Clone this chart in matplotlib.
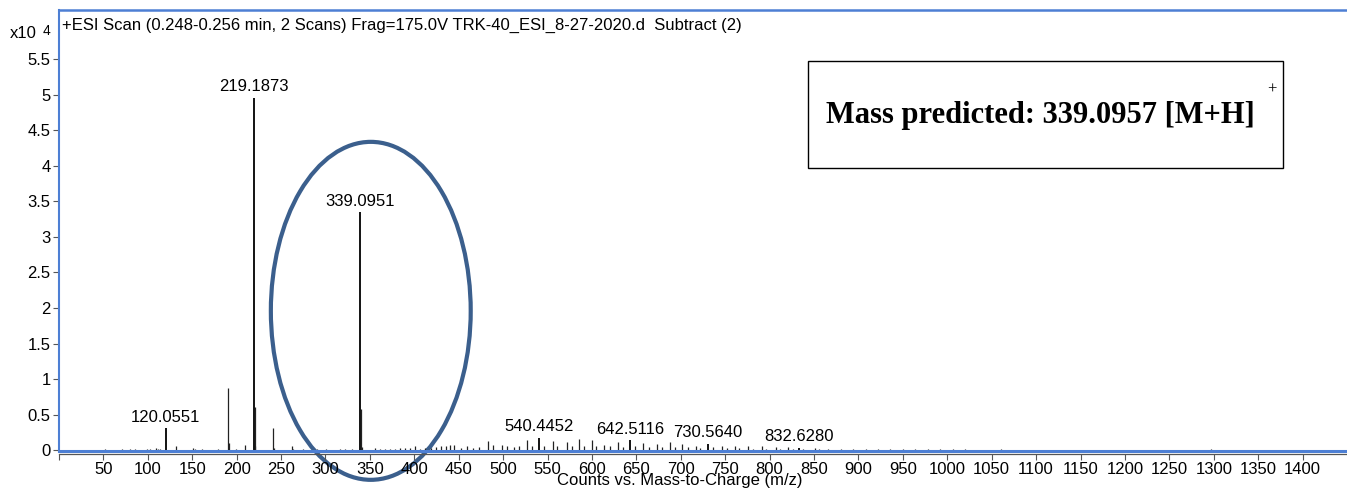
import matplotlib.pyplot as plt
from matplotlib.patches import Ellipse, Rectangle

plt.rcParams['font.family'] = ['Liberation Sans', 'DejaVu Sans']

# labelled peaks (m/z, counts x10^4)
label_mz = [120.0551, 219.1873, 339.0951, 540.4452, 642.5116, 730.5640, 832.6280]
label_int = [0.31, 4.96, 3.35, 0.17, 0.14, 0.09, 0.03]

# other peaks
peak_mz = [52, 71, 80, 86, 99, 102, 109, 112, 114, 131.8, 151, 153, 161, 179,
           190.7, 191.7, 199, 209.5, 220.19, 221.2, 240.7, 241.7, 262, 263,
           275, 290, 301, 316, 322, 330, 340.1, 341.1, 356, 361.6, 367, 373,
           378, 384, 390, 395, 400.5, 406, 412, 419, 424, 430, 436, 440, 445,
           452, 459, 466, 473, 483.4, 489, 498.4, 504, 512, 518, 527.3, 533,
           546, 555.9, 561, 571.6, 577, 585.8, 591, 599.7, 605, 614, 620,
           629.7, 635, 648, 658, 664, 673, 679, 688, 694, 701, 708, 716.8,
           722, 736, 746, 752, 761, 766, 776, 781, 791, 796, 807, 812, 821,
           826, 838, 851, 856, 866, 880, 894, 908, 922, 936, 950, 964, 978,
           992, 1006, 1020, 1060, 1297]
peak_int = [0.01, 0.01, 0.015, 0.01, 0.02, 0.015, 0.025, 0.02, 0.02, 0.05,
            0.025, 0.02, 0.015, 0.01, 0.87, 0.10, 0.015, 0.07, 0.60, 0.05,
            0.31, 0.03, 0.06, 0.015, 0.015, 0.01, 0.01, 0.015, 0.01, 0.015,
            0.58, 0.04, 0.03, 0.015, 0.02, 0.015, 0.02, 0.03, 0.025, 0.03,
            0.06, 0.02, 0.03, 0.025, 0.04, 0.05, 0.06, 0.07, 0.07, 0.03, 0.05,
            0.03, 0.04, 0.13, 0.07, 0.07, 0.05, 0.04, 0.05, 0.14, 0.05, 0.06,
            0.13, 0.05, 0.11, 0.05, 0.15, 0.05, 0.14, 0.05, 0.07, 0.05, 0.11,
            0.04, 0.05, 0.10, 0.04, 0.09, 0.04, 0.11, 0.04, 0.09, 0.04, 0.05,
            0.03, 0.04, 0.06, 0.03, 0.06, 0.03, 0.05, 0.02, 0.05, 0.02, 0.04,
            0.02, 0.04, 0.02, 0.02, 0.03, 0.015, 0.02, 0.02, 0.02, 0.015,
            0.015, 0.015, 0.01, 0.015, 0.01, 0.01, 0.01, 0.01, 0.008, 0.01]

W, H = 1347, 488
fig = plt.figure(figsize=(W / 100, H / 100), dpi=100)
ax = fig.add_axes([59 / W, (H - 451) / H, (W - 59) / W, 441 / H])

blue = '#4d7fd4'
ax.vlines(peak_mz, 0, peak_int, color='#222222', lw=0.9)
ax.vlines(label_mz, 0, label_int, color='black', lw=1.3)
for mz, v in zip(label_mz, label_int):
    ax.annotate(f'{mz:.4f}', (mz, v), xytext=(0, 2.5), textcoords='offset points',
                ha='center', va='bottom', fontsize=12)

ax.set_xlim(0, 1450)
ax.set_ylim(-0.014, 6.197)
ax.set_xticks(range(0, 1401, 50))
ax.set_xticklabels([''] + [str(t) for t in range(50, 1401, 50)])
ax.set_yticks([i * 0.5 for i in range(12)])
ax.set_yticklabels(['%g' % (i * 0.5) for i in range(12)])
ax.tick_params(axis='both', labelsize=12, colors='#555555', labelcolor='black',
               length=4, width=0.8)
ax.tick_params(axis='x', pad=2)
ax.tick_params(axis='y', pad=2)

ax.spines['right'].set_visible(False)
ax.spines['left'].set_color(blue)
ax.spines['left'].set_linewidth(1.5)
ax.spines['top'].set_color(blue)
ax.spines['top'].set_linewidth(1.8)
ax.spines['bottom'].set_color('#555555')
ax.spines['bottom'].set_linewidth(0.9)
ax.spines['bottom'].set_position(('outward', 2.2))
ax.axhline(-0.014, color=blue, lw=2.2, clip_on=False)

# circled target peak
ax.add_patch(Ellipse((351, 1.96), 225, 4.76, fill=False, ec='#3b5f8d', lw=3,
                     clip_on=False))

fig.text(62 / W, 1 - 25 / H,
         '+ESI Scan (0.248-0.256 min, 2 Scans) Frag=175.0V TRK-40_ESI_8-27-2020.d  Subtract (2)',
         fontsize=12, va='center', ha='left')
fig.text(10 / W, 1 - 34 / H, 'x10', fontsize=12, va='center', ha='left')
fig.text(43 / W, 1 - 31 / H, '4', fontsize=10, va='center', ha='left')
fig.text(680 / W, 1 - 481 / H, 'Counts vs. Mass-to-Charge (m/z)', fontsize=12,
         va='center', ha='center')

# predicted mass box
fig.add_artist(Rectangle((808 / W, 1 - 168 / H), 475 / W, 107 / H,
                         transform=fig.transFigure, fill=False, ec='black', lw=1))
fig.text(826 / W, 1 - 123 / H, 'Mass predicted: 339.0957 [M+H]',
         family=['Liberation Serif'], weight='bold', fontsize=22,
         va='baseline', ha='left')
fig.text(1272 / W, 1 - 90 / H, '+', family=['Liberation Serif'], fontsize=12,
         va='center', ha='center')

fig.savefig('out.png', dpi=100)
